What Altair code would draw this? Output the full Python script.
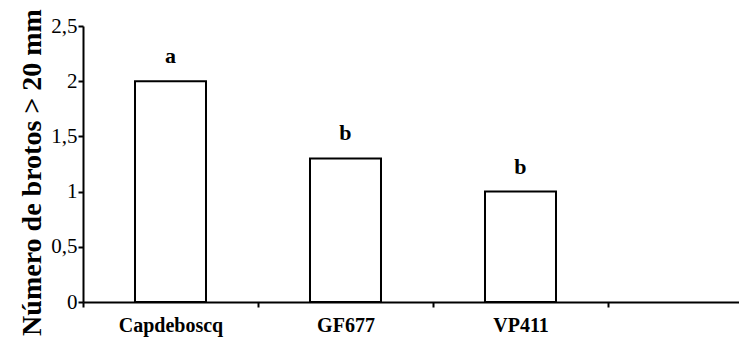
import altair as alt
import pandas as pd

cultivars = ["Capdeboscq", "GF677", "VP411"]
values = [2.0, 1.3, 1.0]
letters = ["a", "b", "b"]
y_ticks = [0, 0.5, 1, 1.5, 2, 2.5]

df = pd.DataFrame({"cultivar": cultivars, "value": values, "letter": letters})
FONT = "Liberation Serif"

x = alt.X(
    "cultivar:N",
    sort=cultivars,
    title=None,
    scale=alt.Scale(paddingInner=0, paddingOuter=0.3743, align=0),
    axis=alt.Axis(
        tickBand="extent", labelAngle=0, labelFont=FONT, labelFontSize=20,
        labelFontWeight="bold", labelColor="black", domainColor="black",
        domainWidth=2, tickColor="black", tickWidth=2, tickSize=5, labelPadding=8,
    ),
)
y = alt.Y(
    "value:Q",
    scale=alt.Scale(domain=[0, 2.5], nice=False),
    axis=alt.Axis(
        values=y_ticks, labelExpr="replace(format(datum.value, '~g'), '.', ',')", grid=False,
        labelFont=FONT, labelFontSize=21, labelColor="black", labelPadding=1,
        domainColor="black", domainWidth=2, tickColor="black", tickWidth=2, tickSize=5,
        title="Número de brotos > 20 mm", titleFont=FONT, titleFontSize=28,
        titleFontWeight="bold", titleColor="black", titleX=-37, titleY=146,
    ),
)

bars = alt.Chart(df).mark_bar(width=71, fill="white", stroke="black", strokeWidth=2).encode(x=x, y=y)
text = alt.Chart(df).mark_text(
    dy=-18, baseline="alphabetic", fontSize=22, fontWeight="bold", font=FONT, color="black"
).encode(x=x, y=y, text="letter")

chart = (bars + text).properties(
    width=656, height=276,
    autosize=alt.AutoSizeParams(type="none"),
    padding={"left": 75, "top": 18, "right": 0, "bottom": 35},
).configure(font=FONT).configure_view(stroke=None)

chart.save("out.html", embed_options={"renderer": "svg", "actions": False})
